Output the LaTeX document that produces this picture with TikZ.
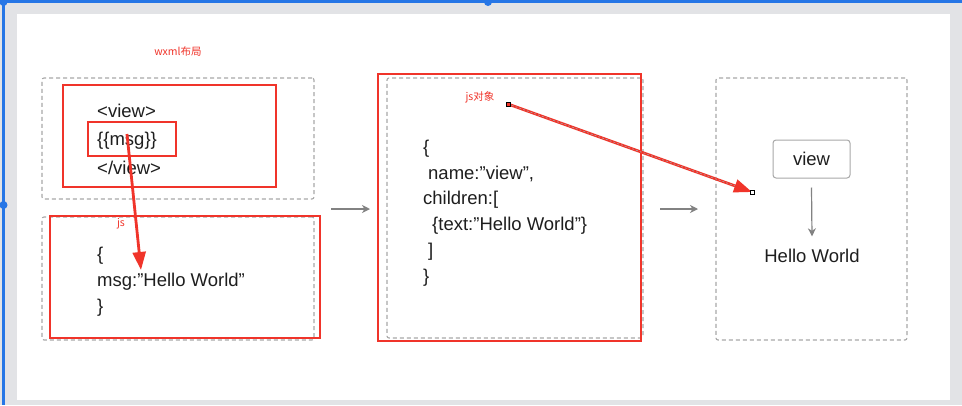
\documentclass[tikz,border=0pt]{standalone}
\usepackage{fontspec}
\setmainfont{Liberation Sans}
\newfontfamily\cjk{Noto Sans CJK SC}
\usetikzlibrary{arrows.meta,calc}
\definecolor{redline}{RGB}{240,52,42}
\definecolor{dashgray}{RGB}{168,168,168}
\definecolor{bggray}{RGB}{226,227,230}
\definecolor{selblue}{RGB}{38,118,230}
\definecolor{textdark}{RGB}{30,30,30}
\definecolor{arrowgray}{RGB}{130,130,130}
\tikzset{
  dashbox/.style={draw=dashgray, dash pattern=on 4pt off 3pt, line width=1.1pt, rounded corners=2pt, inner sep=0pt},
  redbox/.style={draw=redline, line width=2.2pt, inner sep=0pt},
  codeline/.style={font=\fontsize{18.5}{21}\selectfont, text=textdark, inner sep=0pt, anchor=west, text height=13pt, text depth=4pt, yshift=-2.5pt},
  redlabel/.style={font=\cjk\fontsize{10.5}{12}\selectfont, text=redline, inner sep=0pt},
  grayarrow/.style={draw=arrowgray, line width=1.2pt, -{Stealth[length=8pt,width=8pt,inset=2.5pt]}},
  redarrow/.style={draw=redline, line width=2.8pt, -{Triangle[length=18pt,width=13pt]}},
  viewstyle/.style={draw=dashgray, line width=1pt, rounded corners=3pt, inner sep=0pt, minimum width=77pt, minimum height=38pt, font=\fontsize{18.5}{21}\selectfont, text=textdark},
}
\begin{document}
\begin{tikzpicture}[x=1pt,y=-1pt]
\useasboundingbox (0,0) rectangle (962,405);
% screenshot background
\fill[bggray] (0,0) rectangle (962,405);
\fill[white] (17,14) rectangle (950,400);
\fill[selblue] (0,0) rectangle (962,3);
\fill[selblue] (2,0) rectangle (5,405);
\fill[selblue] (3.5,2) circle (4);
\fill[selblue] (488,2) circle (4);
\fill[selblue] (3.5,205) circle (4);

% labels
\node[redlabel] (lblwxml) at (178,52) {wxml布局};
\node[redlabel] (lbljs) at (121,224) {js};
\node[redlabel] (lbljsobj) at (480,97) {js对象};

% left top (wxml)
\node[dashbox, minimum width=272pt, minimum height=121pt] (d1) at (178,138.5) {};
\node[redbox, minimum width=213pt, minimum height=102pt] (r1) at (169.5,136) {};
\node[codeline] (w1) at (97,110) {<view>};
\node[codeline] (w2) at (97,138) {\{\{msg\}\}};
\node[codeline] (w3) at (97,167) {</view>};
\node[redbox, minimum width=88pt, minimum height=34pt] (msgbox) at (132,139) {};

% left bottom (js)
\node[dashbox, minimum width=272pt, minimum height=123pt] (d2) at (178,278.5) {};
\node[redbox, minimum width=270pt, minimum height=122pt] (r2) at (185,277) {};
\node[codeline] (j1) at (97,253) {\{};
\node[codeline] (j2) at (97,279) {msg:”Hello World”};
\node[codeline] (j3) at (97,305) {\}};

% middle (js object)
\node[dashbox, minimum width=256pt, minimum height=260pt] (d3) at (515,208) {};
\node[redbox, minimum width=263pt, minimum height=267pt] (r3) at (509.5,207.5) {};
\node[codeline] (o1) at (423,146) {\{};
\node[codeline] (o2) at (428,172) {name:”view”,};
\node[codeline] (o3) at (423,197) {children:[};
\node[codeline] (o4) at (432,223) {\{text:”Hello World”\}};
\node[codeline] (o5) at (428,249) {]};
\node[codeline] (o6) at (423,275) {\}};

% right (view)
\node[dashbox, minimum width=191pt, minimum height=262pt] (d4) at (811.5,209) {};
\node[viewstyle] (viewbox) at (811.5,159) {view};
\node[codeline, anchor=center] (hello) at (812,255) {Hello World};
\draw[grayarrow] ([yshift=-9pt]viewbox.south) -- ([yshift=12.5pt]hello.north);

% gray flow arrows
\coordinate (g1s) at (331,209);
\coordinate (g1e) at (370,209);
\coordinate (g2s) at (660,209);
\coordinate (g2e) at (698,209);
\draw[grayarrow] (g1s) -- (g1e);
\draw[grayarrow] (g2s) -- (g2e);

% red annotation arrows
\coordinate (a1s) at (127,134);
\coordinate (a1e) at (141,270);
\draw[redarrow] (a1s) -- (a1e);

\coordinate (a2s) at (508,104);
\coordinate (a2e) at (752,192);
\draw[redarrow] (a2s) -- (a2e);
\draw[dashgray, line width=0.6pt, dash pattern=on 2pt off 2pt] (a2s) -- ($(a2s)!0.93!(a2e)$);
\node[draw=black, fill=redline, line width=0.6pt, minimum size=4pt, inner sep=0pt] (sq1) at (a2s) {};
\node[draw=black, fill=white, line width=0.6pt, minimum size=4pt, inner sep=0pt] (sq2) at (a2e) {};
\end{tikzpicture}
\end{document}
